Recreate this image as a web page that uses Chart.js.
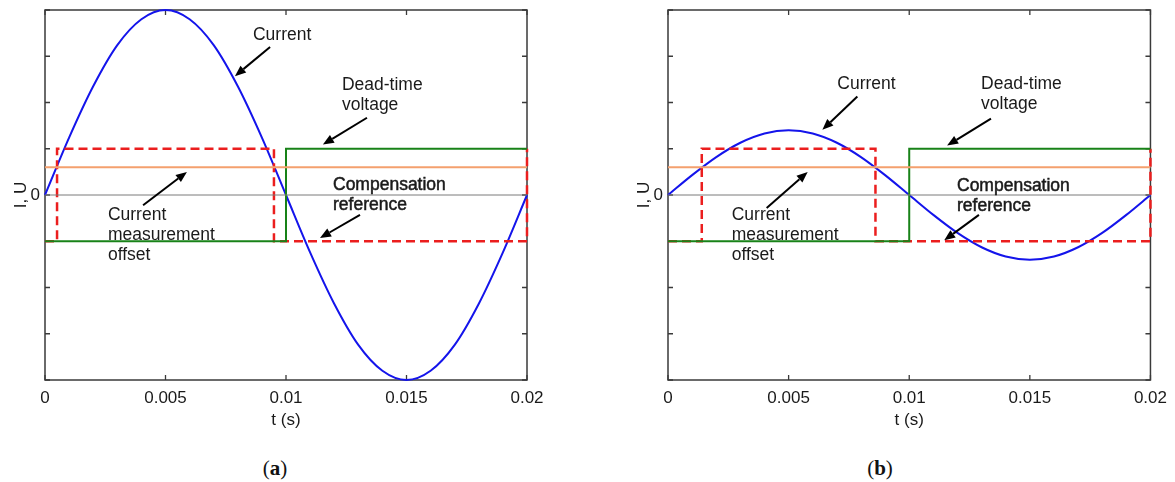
<!DOCTYPE html>
<html>
<head>
<meta charset="utf-8">
<script src="https://cdn.jsdelivr.net/npm/chart.js@4.4.1/dist/chart.umd.min.js"></script>
<style>
  body { margin: 0; background: #fff; width: 1175px; height: 482px; position: relative; overflow: hidden; }
  .panel { position: absolute; top: 0; height: 440px; }
  #panelA { left: 0; width: 560px; }
  #panelB { left: 623px; width: 552px; }
  .caption { position: absolute; top: 456px; font-family: "Liberation Serif", serif; font-size: 21px; color: #111; transform: translateX(-50%); }
</style>
</head>
<body>
<div class="panel" id="panelA"><canvas id="chartA" width="560" height="440"></canvas></div>
<div class="panel" id="panelB"><canvas id="chartB" width="552" height="440"></canvas></div>
<div class="caption" style="left:275px">(<b>a</b>)</div>
<div class="caption" style="left:880px">(<b>b</b>)</div>
<script>
// time axis (s)
const timeSteps = [0, 0.001, 0.002, 0.003, 0.004, 0.005, 0.006, 0.007, 0.008, 0.009, 0.01,
  0.011, 0.012, 0.013, 0.014, 0.015, 0.016, 0.017, 0.018, 0.019, 0.02];
// phase current
const currentA = [0, 1.24, 2.35, 3.24, 3.8, 4, 3.8, 3.24, 2.35, 1.24, 0,
  -1.24, -2.35, -3.24, -3.8, -4, -3.8, -3.24, -2.35, -1.24, 0];
const currentB = [0, 0.43, 0.82, 1.13, 1.33, 1.4, 1.33, 1.13, 0.82, 0.43, 0,
  -0.43, -0.82, -1.13, -1.33, -1.4, -1.33, -1.13, -0.82, -0.43, 0];
// dead-time voltage (same in both)
const deadTimeT = [0, 0.01, 0.01, 0.02];
const deadTimeV = [-1, -1, 1, 1];
// compensation reference, switches where current crosses the offset
const compRefTA = [0, 0.0005, 0.0005, 0.0095, 0.0095, 0.02, 0.02];
const compRefTB = [0, 0.0014, 0.0014, 0.0086, 0.0086, 0.02, 0.02];
const compRefV = [-1, -1, 1, 1, -1, -1, 1];
// current measurement offset level
const offsetLevel = 0.6;
const xTickValues = [0, 0.005, 0.01, 0.015, 0.02];
const xTickLabels = ['0', '0.005', '0.01', '0.015', '0.02'];
const yTickValues = [-4, -3, -2, -1, 0, 1, 2, 3, 4];

// text notes with arrows, in data units
const notesA = [
  { lines: ['Current'], at: [0.00863, 3.45], from: [0.00934, 3.2], to: [0.00788, 2.57] },
  { lines: ['Dead-time', 'voltage'], at: [0.01232, 2.37], from: [0.01336, 1.67], to: [0.01153, 1.09] },
  { lines: ['Compensation', 'reference'], at: [0.01195, 0.22], from: [0.01307, -0.43], to: [0.01141, -0.93], heavy: true },
  { lines: ['Current', 'measurement', 'offset'], at: [0.00261, -0.43], from: [0.00407, -0.22], to: [0.00589, 0.5] }
];
const notesB = [
  { lines: ['Current'], at: [0.00702, 2.39], from: [0.00785, 2.13], to: [0.0064, 1.41] },
  { lines: ['Dead-time', 'voltage'], at: [0.01298, 2.39], from: [0.01339, 1.65], to: [0.01157, 1.07] },
  { lines: ['Compensation', 'reference'], at: [0.01198, 0.2], from: [0.01289, -0.43], to: [0.01145, -0.98], heavy: true },
  { lines: ['Current', 'measurement', 'offset'], at: [0.00264, -0.43], from: [0.00409, -0.28], to: [0.00579, 0.5] }
];

const FONT = '"Liberation Sans", Arial, sans-serif';

function pts(ts, vs) {
  return ts.map((t, i) => ({ x: t, y: vs[i] }));
}

//box round the plot with inward ticks, under the lines
const boxPlugin = {
  id: 'box',
  beforeDatasetsDraw(chart) {
    const { ctx, chartArea: a, scales: { x, y } } = chart;
    ctx.save();
    ctx.strokeStyle = '#3a3a3a';
    ctx.lineWidth = 1.3;
    ctx.beginPath();
    xTickValues.forEach(v => {
      const px = x.getPixelForValue(v);
      ctx.moveTo(px, a.bottom); ctx.lineTo(px, a.bottom - 5);
      ctx.moveTo(px, a.top); ctx.lineTo(px, a.top + 5);
    });
    yTickValues.forEach(v => {
      const py = y.getPixelForValue(v);
      ctx.moveTo(a.left, py); ctx.lineTo(a.left + 5, py);
      ctx.moveTo(a.right, py); ctx.lineTo(a.right - 5, py);
    });
    ctx.stroke();
    ctx.lineWidth = 1.5;
    ctx.strokeRect(a.left, a.top, a.right - a.left, a.bottom - a.top);
    ctx.restore();
  }
};

function makeNotes(notes) {
  return {
    id: 'notes',
    afterDatasetsDraw(chart) {
      const { ctx, scales: { x, y } } = chart;
      ctx.save();
      ctx.font = '17.5px ' + FONT;
      ctx.fillStyle = '#1a1a1a';
      ctx.textAlign = 'left';
      ctx.textBaseline = 'middle';
      notes.forEach(n => {
        const tx = x.getPixelForValue(n.at[0]);
        const ty = y.getPixelForValue(n.at[1]);
        n.lines.forEach((s, i) => {
          ctx.fillText(s, tx, ty + i * 20);
          if (n.heavy) {
            ctx.strokeStyle = '#1a1a1a';
            ctx.lineWidth = 0.5;
            ctx.strokeText(s, tx, ty + i * 20);
          }
        });
        // arrow
        const x1 = x.getPixelForValue(n.from[0]), y1 = y.getPixelForValue(n.from[1]);
        const x2 = x.getPixelForValue(n.to[0]), y2 = y.getPixelForValue(n.to[1]);
        const ang = Math.atan2(y2 - y1, x2 - x1);
        const hl = 11, hw = 4.5;
        const bx = x2 - hl * Math.cos(ang), by = y2 - hl * Math.sin(ang);
        ctx.strokeStyle = '#000';
        ctx.lineWidth = 2;
        ctx.beginPath();
        ctx.moveTo(x1, y1);
        ctx.lineTo(bx, by);
        ctx.stroke();
        ctx.fillStyle = '#000';
        ctx.beginPath();
        ctx.moveTo(x2, y2);
        ctx.lineTo(bx + hw * Math.sin(ang), by - hw * Math.cos(ang));
        ctx.lineTo(bx - hw * Math.sin(ang), by + hw * Math.cos(ang));
        ctx.closePath();
        ctx.fill();
        ctx.fillStyle = '#1a1a1a';
      });
      ctx.restore();
    }
  };
}

function makeChart(id, current, compT, notes, padRight) {
  return new Chart(document.getElementById(id), {
    type: 'line',
    plugins: [boxPlugin, makeNotes(notes)],
    data: {
      datasets: [
        { data: pts([0, 0.02], [0, 0]), borderColor: '#7a7a7a', borderWidth: 1 },
        { data: pts([0, 0.02], [offsetLevel, offsetLevel]), borderColor: 'rgb(244,160,110)', borderWidth: 2 },
        { data: pts(deadTimeT, deadTimeV), borderColor: 'rgb(24,130,24)', borderWidth: 2 },
        { data: pts(compT, compRefV), borderColor: 'rgb(235,30,30)', borderWidth: 2.5, borderDash: [9, 5] },
        { data: pts(timeSteps, current), borderColor: 'rgb(20,20,235)', borderWidth: 2, cubicInterpolationMode: 'monotone' }
      ]
    },
    options: {
      responsive: false,
      animation: false,
      clip: false,
      elements: { point: { radius: 0 } },
      layout: { padding: { top: 10, right: padRight, left: 0, bottom: 0 } },
      plugins: { legend: { display: false }, tooltip: { enabled: false } },
      scales: {
        x: {
          type: 'linear',
          min: 0,
          max: 0.02,
          afterBuildTicks: s => { s.ticks = xTickValues.map(v => ({ value: v })); },
          afterFit: s => { s.height = 60; },
          grid: { display: false, drawTicks: false },
          border: { display: false },
          ticks: {
            padding: 8,
            color: '#1a1a1a',
            font: { family: FONT, size: 17 },
            maxRotation: 0,
            callback: (v, i) => xTickLabels[i]
          },
          title: { display: true, text: 't (s)', color: '#1a1a1a', font: { family: FONT, size: 17 }, padding: { top: 0, bottom: 9 } }
        },
        y: {
          min: -4,
          max: 4,
          afterBuildTicks: s => { s.ticks = yTickValues.map(v => ({ value: v })); },
          afterFit: s => { s.width = 45; s.paddingTop = 0; s.paddingBottom = 0; },
          grid: { display: false, drawTicks: false },
          border: { display: false },
          ticks: {
            padding: 5,
            color: '#1a1a1a',
            font: { family: FONT, size: 17 },
            callback: v => (v === 0 ? '0' : '')
          },
          title: { display: true, text: 'I, U', color: '#1a1a1a', font: { family: FONT, size: 17 }, padding: { top: 11, bottom: 0 } }
        }
      }
    }
  });
}

makeChart('chartA', currentA, compRefTA, notesA, 33);
makeChart('chartB', currentB, compRefTB, notesB, 23);
</script>
</body>
</html>
